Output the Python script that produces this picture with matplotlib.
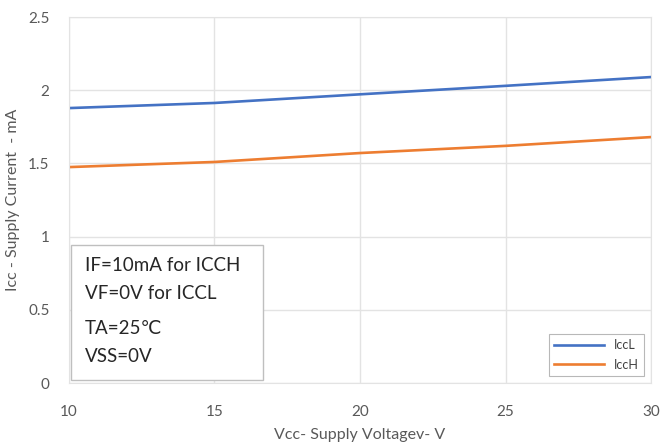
import matplotlib
matplotlib.use('Agg')
import matplotlib.pyplot as plt
from matplotlib.patches import Rectangle

# datos
vcc = [10, 15, 20, 25, 30]
icc_l = [1.878, 1.913, 1.972, 2.03, 2.09]
icc_h = [1.475, 1.51, 1.571, 1.62, 1.68]

plt.rcParams['font.family'] = ['Lato', 'DejaVu Sans']

fig = plt.figure(figsize=(6.63, 4.48), dpi=100)
ax = fig.add_axes([0.104, 0.145, 0.878, 0.817])

ax.plot(vcc, icc_l, color='#4472C4', lw=1.9, label='IccL')
ax.plot(vcc, icc_h, color='#ED7D31', lw=1.9, label='IccH')

ax.set_xlim(10, 30)
ax.set_ylim(0, 2.5)
ax.set_xticks([10, 15, 20, 25, 30])
ax.set_yticks([0, 0.5, 1, 1.5, 2, 2.5])
ax.set_yticklabels(['0', '0.5', '1', '1.5', '2', '2.5'])
ax.grid(True, color='#E3E3E3', lw=1)
ax.set_axisbelow(True)
for s in ax.spines.values():
    s.set_color('#E3E3E3')
ax.tick_params(length=0, colors='#595959', labelsize=11)
ax.tick_params(axis='x', pad=16)
ax.tick_params(axis='y', pad=14)

ax.set_xlabel('Vcc- Supply Voltagev- V', fontsize=11.5, color='#595959', labelpad=6)
ax.set_ylabel('Icc - Supply Current  - mA', fontsize=11.5, color='#595959', labelpad=6)

leg = ax.legend(loc='lower right', fontsize=9, frameon=True, fancybox=False,
                edgecolor='#A6A6A6', handlelength=4, borderaxespad=0.6,
                labelspacing=0.6)
leg.get_frame().set_linewidth(0.8)
for t in leg.get_texts():
    t.set_color('#404040')

# cuadro de condiciones
ax.add_patch(Rectangle((0.003, 0.008), 0.33, 0.37, transform=ax.transAxes,
                       facecolor='white', edgecolor='#BFBFBF', lw=1, zorder=5))
lineas = ['IF=10mA for ICCH', 'VF=0V for ICCL', 'TA=25℃', 'VSS=0V']
ys = [0.322, 0.246, 0.150, 0.072]
for t, y in zip(lineas, ys):
    ax.text(0.027, y, t, transform=ax.transAxes, fontsize=13.5,
            color='#262626', va='center', zorder=6)

fig.savefig('out.png', dpi=100)
